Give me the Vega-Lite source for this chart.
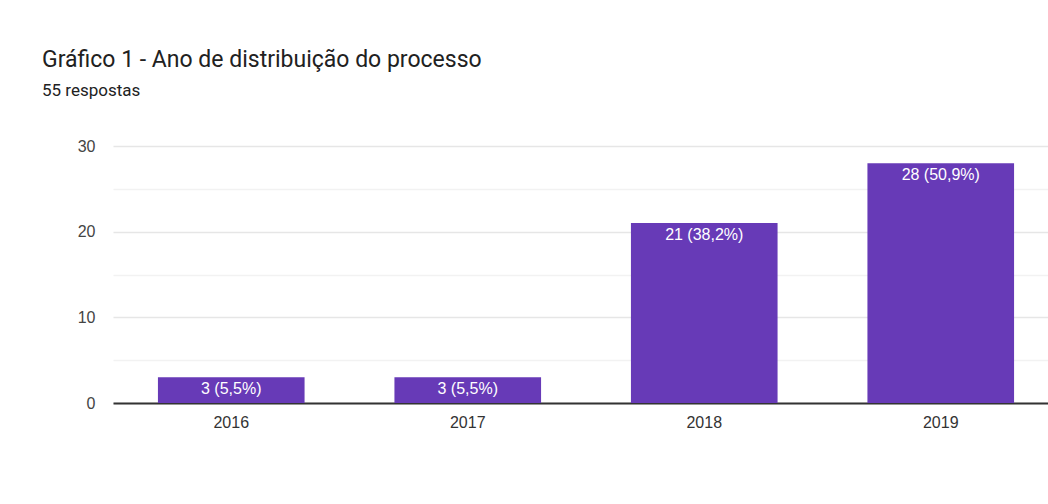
{
  "$schema": "https://vega.github.io/schema/vega-lite/v6.json",
  "autosize": "none",
  "width": 946,
  "height": 257,
  "padding": {"left": 113, "top": 146, "right": 0, "bottom": 101},
  "background": "white",
  "config": {"font": "Roboto", "view": {"stroke": null}},
  "title": {
    "text": "Gráfico 1 - Ano de distribuição do processo",
    "subtitle": "55 respostas",
    "anchor": "start",
    "frame": "group",
    "dx": -71,
    "offset": 39,
    "font": "Roboto",
    "fontSize": 23,
    "fontWeight": "normal",
    "color": "#212121",
    "subtitleFont": "Roboto",
    "subtitleFontSize": 17,
    "subtitleColor": "#212121",
    "subtitlePadding": 11
  },
  "data": {
    "values": [
      {"ano": "2016", "respostas": 3, "rotulo": "3 (5,5%)"},
      {"ano": "2017", "respostas": 3, "rotulo": "3 (5,5%)"},
      {"ano": "2018", "respostas": 21, "rotulo": "21 (38,2%)"},
      {"ano": "2019", "respostas": 28, "rotulo": "28 (50,9%)"}
    ]
  },
  "encoding": {
    "x": {
      "field": "ano",
      "type": "nominal",
      "scale": {"paddingInner": 0.38, "paddingOuter": 0.19},
      "axis": {
        "title": null,
        "labelAngle": 0,
        "labelFont": "Liberation Sans",
        "labelFontSize": 16,
        "labelColor": "#333333",
        "labelPadding": 11,
        "ticks": false,
        "domainColor": "#333333",
        "domainWidth": 2
      }
    },
    "y": {
      "field": "respostas",
      "type": "quantitative",
      "scale": {"domain": [0, 30], "nice": false},
      "axis": {
        "title": null,
        "values": [0, 5, 10, 15, 20, 25, 30],
        "labelExpr": "datum.value % 10 == 0 ? datum.label : ''",
        "labelFont": "Liberation Sans",
        "labelFontSize": 16,
        "labelColor": "#444444",
        "labelPadding": 18,
        "ticks": false,
        "domain": false,
        "gridColor": {"condition": {"test": "datum.value % 10 == 0", "value": "#e6e6e6"}, "value": "#f2f2f2"},
        "gridWidth": 1.5
      }
    }
  },
  "layer": [
    {"mark": {"type": "bar", "color": "#673ab7"}},
    {
      "mark": {"type": "text", "color": "white", "baseline": "top", "dy": 4, "fontSize": 16, "font": "Liberation Sans"},
      "encoding": {"text": {"field": "rotulo"}}
    }
  ]
}
